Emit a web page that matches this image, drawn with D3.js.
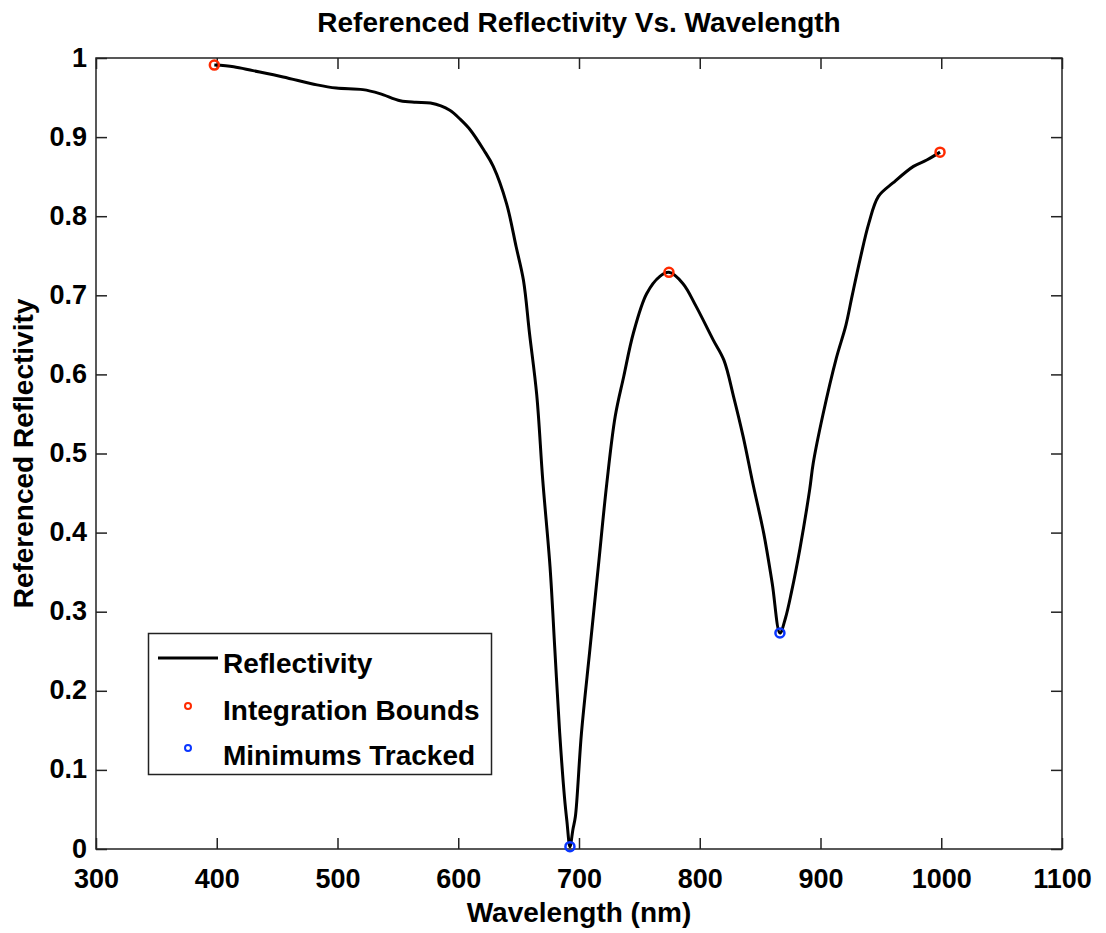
<!DOCTYPE html>
<html>
<head>
<meta charset="utf-8">
<script src="https://cdn.jsdelivr.net/npm/d3@7"></script>
<style>
  html, body { margin: 0; padding: 0; background: #fff; }
  svg { display: block; }
  text { font-family: "Liberation Sans", Arial, Helvetica, sans-serif; font-weight: bold; fill: #000; }
</style>
</head>
<body>
<svg id="chart" width="1106" height="933"></svg>
<script>
// ---- data ----
const wavelength = [398, 414, 430, 455, 483, 499, 521, 535, 552, 565, 577, 593, 602, 610, 621, 629, 640, 648, 654, 659, 665, 670, 676, 680, 684, 688, 690, 692.5, 695, 697, 702, 709, 716, 723, 730, 737, 745, 756, 767, 774.5, 786, 797, 811, 820, 828, 836, 844, 853, 860, 866.4, 871, 876, 883, 891, 894, 902, 913, 921, 926, 933, 940, 948, 960, 977, 988, 999];
const reflectivity = [0.991, 0.989, 0.984, 0.976, 0.966, 0.962, 0.960, 0.955, 0.946, 0.944, 0.943, 0.934, 0.922, 0.909, 0.884, 0.863, 0.816, 0.761, 0.719, 0.652, 0.574, 0.466, 0.357, 0.252, 0.147, 0.065, 0.035, 0.003, 0.025, 0.041, 0.146, 0.252, 0.357, 0.462, 0.547, 0.597, 0.652, 0.702, 0.724, 0.729, 0.715, 0.686, 0.644, 0.618, 0.572, 0.521, 0.462, 0.399, 0.336, 0.273, 0.292, 0.325, 0.380, 0.454, 0.488, 0.549, 0.620, 0.662, 0.698, 0.747, 0.791, 0.825, 0.842, 0.863, 0.871, 0.881];
const boundsX = [398, 774.5, 999];
const boundsY = [0.991, 0.729, 0.881];
const minsX = [692.5, 866.4];
const minsY = [0.003, 0.273];
const xTicks = [300, 400, 500, 600, 700, 800, 900, 1000, 1100];
const yTicks = [0, 0.1, 0.2, 0.3, 0.4, 0.5, 0.6, 0.7, 0.8, 0.9, 1];
const legendLabels = ["Reflectivity", "Integration Bounds", "Minimums Tracked"];
const titleText = "Referenced Reflectivity Vs. Wavelength";
const xLabelText = "Wavelength (nm)";
const yLabelText = "Referenced Reflectivity";

// ---- layout ----
const svg = d3.select("#chart");
const L = 96, T = 58, R = 1062, B = 849;
const x = d3.scaleLinear().domain([300, 1100]).range([L, R]);
const y = d3.scaleLinear().domain([0, 1]).range([B, T]);
const redC = "#ff2a00", blueC = "#0a36ff";
const fs = 27, fl = 28;

// frame
svg.append("rect").attr("x", L).attr("y", T).attr("width", R - L).attr("height", B - T)
  .attr("fill", "none").attr("stroke", "#222").attr("stroke-width", 1.5);

// axes (ticks inward)
const fmtY = d => d3.format("")(+d.toFixed(1));
const axB = svg.append("g").attr("transform", `translate(0,${B})`)
  .call(d3.axisBottom(x).tickValues(xTicks).tickSize(-11).tickPadding(20).tickFormat(d3.format("d")));
const axT = svg.append("g").attr("transform", `translate(0,${T})`)
  .call(d3.axisTop(x).tickValues(xTicks).tickSize(-11).tickFormat(""));
const axL = svg.append("g").attr("transform", `translate(${L},0)`)
  .call(d3.axisLeft(y).tickValues(yTicks).tickSize(-11).tickPadding(20).tickFormat(fmtY));
const axR = svg.append("g").attr("transform", `translate(${R},0)`)
  .call(d3.axisRight(y).tickValues(yTicks).tickSize(-11).tickFormat(""));
[axB, axT, axL, axR].forEach(g => {
  g.select(".domain").remove();
  g.selectAll(".tick line").attr("stroke", "#222").attr("stroke-width", 1.5);
  g.selectAll(".tick text").style("font-size", fs + "px").style("font-weight", "bold")
    .style("font-family", '"Liberation Sans", Arial, sans-serif').attr("fill", "#000");
});
axL.selectAll(".tick text").attr("dy", "0").attr("y", 8).attr("x", -9);
axB.selectAll(".tick text").attr("dy", "0").attr("y", 39);

// curve
const pts = wavelength.map((w, i) => [w, reflectivity[i]]);
svg.append("path").datum(pts)
  .attr("d", d3.line().x(d => x(d[0])).y(d => y(d[1])).curve(d3.curveCatmullRom.alpha(0.5)))
  .attr("fill", "none").attr("stroke", "#000").attr("stroke-width", 3).attr("stroke-linejoin", "round");

// markers
svg.selectAll(".bnd").data(boundsX).enter().append("circle")
  .attr("cx", (d) => x(d)).attr("cy", (d, i) => y(boundsY[i])).attr("r", 4.5)
  .attr("fill", "none").attr("stroke", redC).attr("stroke-width", 2.5);
svg.selectAll(".mn").data(minsX).enter().append("circle")
  .attr("cx", (d) => x(d)).attr("cy", (d, i) => y(minsY[i])).attr("r", 4.5)
  .attr("fill", "none").attr("stroke", blueC).attr("stroke-width", 2.5);

// title & labels
svg.append("text").attr("x", (L + R) / 2).attr("y", 32).attr("text-anchor", "middle")
  .style("font-size", fl + "px").text(titleText);
svg.append("text").attr("x", (L + R) / 2).attr("y", 922).attr("text-anchor", "middle")
  .style("font-size", fl + "px").text(xLabelText);
svg.append("text").attr("transform", `translate(33,${(T + B) / 2}) rotate(-90)`).attr("text-anchor", "middle")
  .style("font-size", fl + "px").text(yLabelText);

// legend
const lg = svg.append("g");
lg.append("rect").attr("x", 148.5).attr("y", 633.5).attr("width", 343).attr("height", 141)
  .attr("fill", "#fff").attr("stroke", "#222").attr("stroke-width", 1.5);
lg.append("line").attr("x1", 158).attr("x2", 218).attr("y1", 658).attr("y2", 658)
  .attr("stroke", "#000").attr("stroke-width", 3);
lg.append("circle").attr("cx", 188).attr("cy", 706).attr("r", 3).attr("fill", "none").attr("stroke", redC).attr("stroke-width", 2);
lg.append("circle").attr("cx", 188).attr("cy", 748).attr("r", 3).attr("fill", "none").attr("stroke", blueC).attr("stroke-width", 2);
const rowY = [673, 720, 765];
lg.selectAll(".lt").data(legendLabels).enter().append("text")
  .attr("x", 223).attr("y", (d, i) => rowY[i]).style("font-size", fl + "px").text(d => d);
</script>
</body>
</html>
